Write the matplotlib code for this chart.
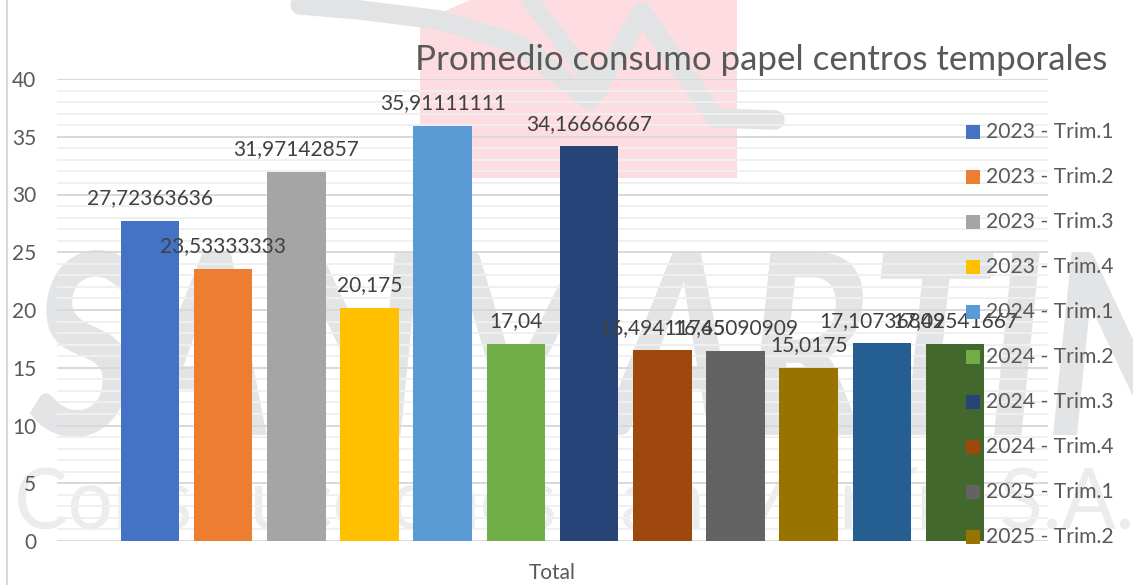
import numpy as np
import matplotlib
matplotlib.use("Agg")
import matplotlib.pyplot as plt
from matplotlib.textpath import TextPath
from matplotlib.font_manager import FontProperties
from matplotlib.patches import PathPatch, Polygon, Rectangle
from matplotlib.transforms import Affine2D

# data
series = ['2023 - Trim.1', '2023 - Trim.2', '2023 - Trim.3', '2023 - Trim.4',
          '2024 - Trim.1', '2024 - Trim.2', '2024 - Trim.3', '2024 - Trim.4',
          '2025 - Trim.1', '2025 - Trim.2', '2025 - Trim.3', '2025 - Trim.4']
values = [27.72363636, 23.53333333, 31.97142857, 20.175, 35.91111111, 17.04,
          34.16666667, 16.49411765, 16.45090909, 15.0175, 17.10736842, 17.09541667]
colors = ['#4472C4', '#ED7D31', '#A5A5A5', '#FFC000', '#5B9BD5', '#70AD47',
          '#264478', '#9E480E', '#636363', '#997300', '#255E91', '#43682B']
category = 'Total'
title = 'Promedio consumo papel centros temporales'
legend_shown = 10  # the legend in the original is cut after 10 entries

W, H = 1133, 585
FONT = 'Lato'
TXT = '#595959'

fig = plt.figure(figsize=(W / 100, H / 100), dpi=100)
fig.patch.set_facecolor('white')

# background layer (watermark), pixel coordinates
bg = fig.add_axes([0, 0, 1, 1], zorder=0)
bg.set_xlim(0, W)
bg.set_ylim(H, 0)
bg.axis('off')


def text_in_box(axis, s, x0, y0, x1, y1, color, weight='bold', style='italic'):
    fp = FontProperties(family=FONT, weight=weight, style=style)
    tp = TextPath((0, 0), s, size=100, prop=fp)
    ext = tp.get_extents()
    sx = (x1 - x0) / ext.width
    sy = (y1 - y0) / ext.height
    tr = Affine2D().translate(-ext.x0, -ext.y0).scale(sx, -sy).translate(x0, y1)
    path = tr.transform_path(tp)
    axis.add_patch(PathPatch(path, facecolor=color, edgecolor='none'))


# logo-ish shapes at the top
bg.add_patch(Polygon([(420, 178), (420, 22), (470, 0), (737, 0), (737, 178)],
                     closed=True, facecolor='#FDDDE1', edgecolor='none'))
bg.plot([300, 360, 440, 520, 590, 642, 715, 775],
        [5, 10, 20, 45, 100, 12, 118, 120],
        color='#E2E3E4', lw=14, solid_capstyle='round', solid_joinstyle='round')
bg.plot([530, 560, 600], [0, 40, 90], color='#E2E3E4', lw=12, solid_capstyle='round')

text_in_box(bg, 'SANMARTIN', 30, 250, 1190, 437, '#E3E4E5')
text_in_box(bg, 'Construcciones San Martín, S.A.', 18, 467, 1130, 540, '#ECECEC',
            weight='normal', style='normal')

bg.plot([7, 7], [0, H], color='#D9D9D9', lw=1.5)

# main chart
ax = fig.add_axes([57 / W, 1 - 541 / H, (1048 - 57) / W, (541 - 79) / H], zorder=1)
ax.patch.set_alpha(0)
x = np.arange(len(values))
ax.bar(x, values, width=0.8, color=colors, zorder=3)
ax.set_xlim(5.5 - 6.77, 5.5 + 6.77)
ax.set_ylim(0, 40)
ax.set_yticks(np.arange(0, 41, 5))
ax.set_yticks(np.arange(0, 41, 1), minor=True)
ax.grid(axis='y', which='major', color='#D9D9D9', lw=1.4, zorder=1)
ax.grid(axis='y', which='minor', color='#F0F0F0', lw=1.4, zorder=0)
ax.tick_params(axis='y', which='both', length=0, pad=15, labelsize=15, labelcolor=TXT)
for lab in ax.get_yticklabels():
    lab.set_fontfamily(FONT)
ax.set_xticks([5.5])
ax.set_xticklabels([category], fontfamily=FONT, fontsize=15, color=TXT)
ax.tick_params(axis='x', length=0, pad=16)
for s in ax.spines.values():
    s.set_visible(False)

for xi, v in zip(x, values):
    ax.annotate(f'{v:.10g}'.replace('.', ','), (xi, v), xytext=(0, 12),
                textcoords='offset points', ha='center', va='baseline',
                fontfamily=FONT, fontsize=15, color='#404040', zorder=4)

# overlay layer: title and legend
top = fig.add_axes([0, 0, 1, 1], zorder=3)
top.set_xlim(0, W)
top.set_ylim(H, 0)
top.axis('off')
top.text(415, 70, title, ha='left', va='baseline', fontfamily=FONT,
         fontsize=25.1, color=TXT)
for i in range(legend_shown):
    yc = 132 + 45 * i
    top.add_patch(Rectangle((966, yc - 7), 14, 14, facecolor=colors[i], edgecolor='none'))
    top.text(986, yc, series[i], ha='left', va='center', fontfamily=FONT,
             fontsize=15.2, color=TXT)

fig.savefig('out.png', dpi=100)
